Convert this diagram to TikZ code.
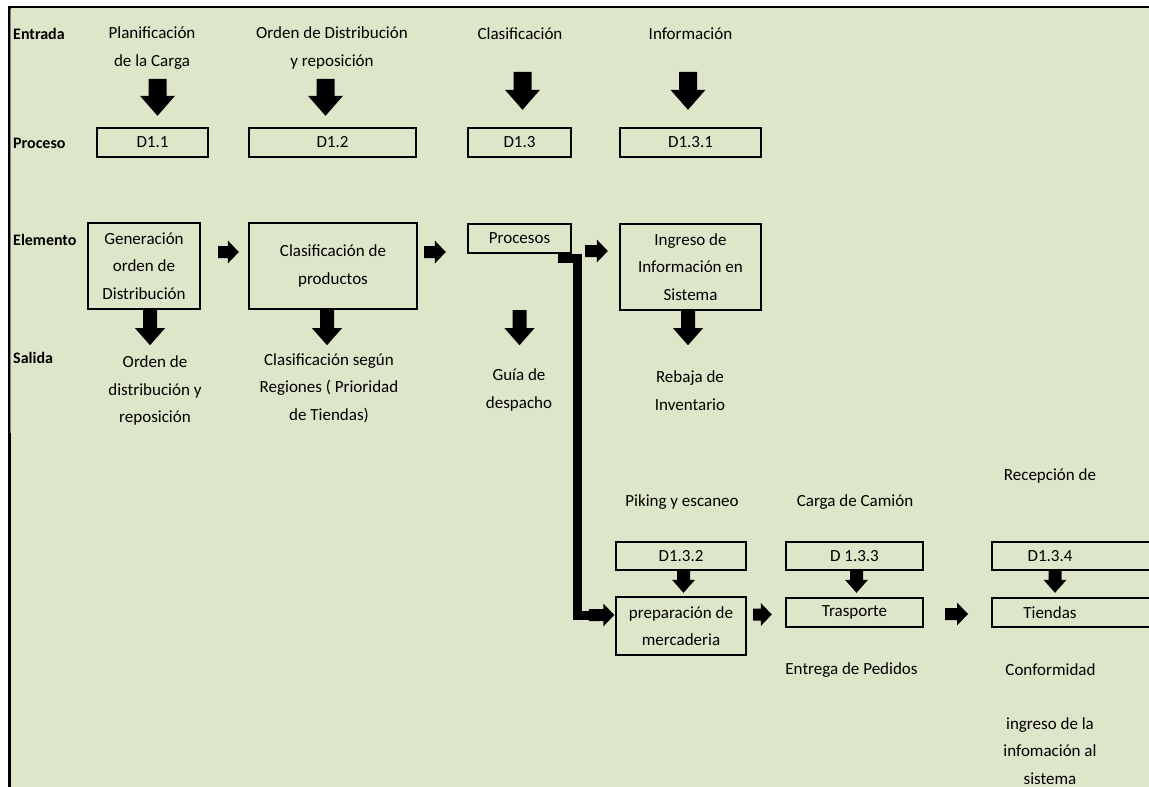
\documentclass[tikz,border=0pt]{standalone}
\usepackage{fontspec}
\setmainfont{Carlito}
\usetikzlibrary{calc}
\definecolor{sheet}{RGB}{222,230,201}
\newcommand\bodyfont{\fontsize{17}{27.5}\selectfont}
\newcommand\rowfont{\fontsize{16}{20}\selectfont\bfseries}

\tikzset{
  box/.style={draw=black, line width=2.4pt, inner sep=0pt, align=center, font=\bodyfont},
  txt/.style={inner sep=0pt, align=center, font=\bodyfont},
  rowlab/.style={inner sep=0pt, anchor=west, font=\rowfont},
  % block arrow pointing down: shaft width, head width, head length
  dblk/.style n args={3}{fill=black, to path={
    let \p1=(\tikztostart), \p2=(\tikztotarget) in
    ({\x1-#1/2},\y1) -- ({\x1-#1/2},{\y2+#3}) -- ({\x1-#2/2},{\y2+#3}) -- (\x1,\y2)
    -- ({\x1+#2/2},{\y2+#3}) -- ({\x1+#1/2},{\y2+#3}) -- ({\x1+#1/2},\y1) -- cycle}},
  % block arrow pointing right: shaft width, head width, head length
  rblk/.style n args={3}{fill=black, to path={
    let \p1=(\tikztostart), \p2=(\tikztotarget) in
    (\x1,{\y1-#1/2}) -- ({\x2-#3},{\y1-#1/2}) -- ({\x2-#3},{\y1-#2/2}) -- (\x2,\y1)
    -- ({\x2-#3},{\y1+#2/2}) -- ({\x2-#3},{\y1+#1/2}) -- (\x1,{\y1+#1/2}) -- cycle}},
  bigdown/.style={dblk={18pt}{35pt}{20pt}},
  meddown/.style={dblk={14pt}{30pt}{17pt}},
  smalldown/.style={dblk={13pt}{23pt}{13pt}},
  rarrow/.style={rblk={12pt}{23pt}{11pt}},
  route/.style={draw=black, line width=9pt},
}

\begin{document}
\begin{tikzpicture}[x=1pt, y=-1pt]
\useasboundingbox (0,0) rectangle (1149,787);
\clip (0,0) rectangle (1149,787);

% sheet background and its frame
\fill[white] (0,0) rectangle (1149,787);
\fill[sheet] (9,7) rectangle (1149,787);
\draw[line width=2.2pt] (9.4,787) -- (9.4,7.2) -- (1149,7.2);
\draw[gray, line width=0.9pt] (10.8,8.5) -- (10.8,433);

% row labels
\node[rowlab] (lin) at (13,34) {Entrada};
\node[rowlab] (lpr) at (13,143) {Proceso};
\node[rowlab] (lel) at (13,240) {Elemento};
\node[rowlab] (lsa) at (13,358) {Salida};

% inputs
\node[txt] (in1) at (152,48) {Planificación\\de la Carga};
\node[txt] (in2) at (332,48) {Orden de Distribución\\y reposición};
\node[txt] (in3) at (520,34) {Clasificación};
\node[txt] (in4) at (690.5,34) {Información};

% process codes
\node[box, minimum width=111pt, minimum height=29pt] (d11) at (152.5,142.5) {D1.1};
\node[box, minimum width=167pt, minimum height=29pt] (d12) at (332.5,142.5) {D1.2};
\node[box, minimum width=103pt, minimum height=29pt] (d13) at (519.5,142.5) {D1.3};
\node[box, minimum width=141pt, minimum height=29pt] (d131) at (690.5,142.5) {D1.3.1};

\path[bigdown] ([xshift=5pt,yshift=48pt]d11.north) to ([xshift=5pt,yshift=11pt]d11.north);
\path[bigdown] ([xshift=-7pt,yshift=48pt]d12.north) to ([xshift=-7pt,yshift=11pt]d12.north);
\path[bigdown] ([xshift=3pt,yshift=55pt]d13.north) to ([xshift=3pt,yshift=17pt]d13.north);
\path[bigdown] ([xshift=-2.5pt,yshift=55pt]d131.north) to ([xshift=-2.5pt,yshift=17pt]d131.north);

% elements
\node[box, minimum width=112pt, minimum height=86pt] (gen) at (144,266) {Generación\\orden de\\Distribución};
\node[box, minimum width=168pt, minimum height=86pt] (clas) at (333,266) {Clasificación de\\productos};
\node[box, minimum width=103pt, minimum height=29pt] (proc) at (519.5,238.5) {Procesos};
\node[box, minimum width=141pt, minimum height=86pt] (ingr) at (690.5,267) {Ingreso de\\Información en\\Sistema};

\path[rarrow] ([xshift=17pt,yshift=14pt]gen.east) to ([xshift=-9pt,yshift=14pt]clas.west);
\path[rarrow] ([xshift=6pt,yshift=14pt]clas.east) to ([xshift=-21pt,yshift=-13.5pt]proc.west);
\path[rarrow] ([xshift=13pt,yshift=-12.5pt]proc.east) to ([xshift=-11pt,yshift=16pt]ingr.west);

% outputs
\node[txt] (out1) at (155,390.5) {Orden de\\distribución y\\reposición};
\node[txt] (out2) at (329,388) {Clasificación según\\Regiones ( Prioridad\\de Tiendas)};
\node[txt] (out3) at (519,390) {Guía de\\despacho};
\node[txt] (out4) at (690,390.5) {Rebaja de\\Inventario};

\path[meddown] ([xshift=6pt]gen.south) to ([xshift=6pt,yshift=-35pt]gen.south);
\path[meddown] ([xshift=-6pt]clas.south) to ([xshift=-6pt,yshift=-35pt]clas.south);
\path[meddown] ([yshift=-56pt]proc.south) to ([yshift=-91pt]proc.south);
\path[meddown] ([xshift=-2.5pt]ingr.south) to ([xshift=-2.5pt,yshift=-34pt]ingr.south);

% dispatch chain
\node[txt] (in5) at (682,502) {Piking y escaneo};
\node[txt] (in6) at (855,502) {Carga de Camión};
\node[txt] (in7) at (1050,476) {Recepción de};

\node[box, minimum width=130pt, minimum height=28pt] (d132) at (681,556) {D1.3.2};
\node[box, minimum width=137pt, minimum height=28pt] (d133) at (854.5,556) {D 1.3.3};
\node[box, anchor=west, minimum width=200pt, minimum height=28pt] (d134) at (991,556) {};
\node[txt] (d134t) at (1050,556.5) {D1.3.4};

\node[box, minimum width=130pt, minimum height=58pt] (prep) at (681,626) {preparación de\\mercaderia};
\node[box, minimum width=137pt, minimum height=29pt] (tras) at (854.5,612.5) {Trasporte};
\node[box, anchor=west, minimum width=200pt, minimum height=29pt] (tien) at (991,612.5) {};
\node[txt] (tient) at (1050,613) {Tiendas};

\path[smalldown] ([xshift=2.5pt]d132.south) to ([xshift=2.5pt,yshift=3pt]prep.north);
\path[smalldown] ([xshift=2pt]d133.south) to ([xshift=2pt,yshift=4pt]tras.north);
\path[smalldown] ([xshift=64pt]d134.south west) to ([xshift=64pt,yshift=4pt]tien.north west);

\path[rarrow] ([xshift=6pt,yshift=11.5pt]prep.east) to ([xshift=-13pt,yshift=-2pt]tras.west);
\path[rarrow] ([xshift=21pt,yshift=-1.5pt]tras.east) to ([xshift=-23pt,yshift=-1.5pt]tien.west);

% route from Procesos down to the preparation step
\draw[route] ([xshift=-14pt,yshift=-4.5pt]proc.south east) -- ++(19.5,0) |- ([xshift=-24pt,yshift=11pt]prep.west);
\path[rarrow] ([xshift=-26pt,yshift=11pt]prep.west) to ([xshift=-0.5pt,yshift=11pt]prep.west);

\node[txt] (out8) at (851.5,670) {Entrega de Pedidos};
\node[txt] (out9) at (1050.5,670) {Conformidad};
\node[txt] (out10) at (1050,751) {ingreso de la\\infomación al\\sistema};
\end{tikzpicture}
\end{document}
